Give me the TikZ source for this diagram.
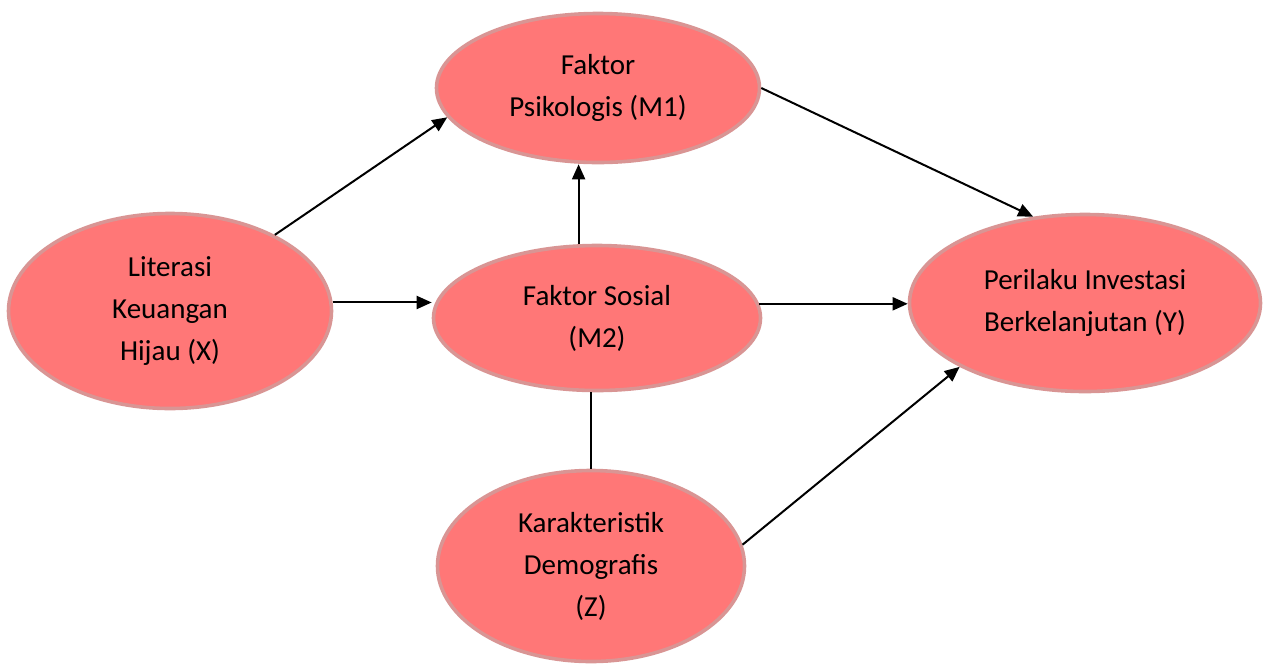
\documentclass[tikz,border=0pt]{standalone}
\usepackage{fontspec}
\setmainfont{Carlito}
\usepackage{tikz}
\usetikzlibrary{shapes.geometric, arrows.meta, positioning}
\tikzset{>={Triangle[length=7.5pt,width=6.5pt]}}
\definecolor{varfill}{HTML}{FF7777}
\definecolor{varline}{HTML}{D99594}
\tikzset{
  var/.style={ellipse, draw=varline, line width=1.8pt, fill=varfill, inner sep=0pt,
    align=center, font=\fontsize{14.5}{21}\selectfont},
  path/.style={line width=1pt, ->}
}

\begin{document}
\begin{tikzpicture}[x=0.5pt, y=-0.5pt]
	\useasboundingbox (0,0) rectangle (1265,666);
	\node[var, minimum width=161.5pt, minimum height=97.5pt] (x) at (170,311) {Literasi\\Keuangan\\Hijau (X)};
	\node[var, minimum width=161.5pt, minimum height=74.5pt] (m1) at (598,88) {Faktor\\Psikologis (M1)};
	\node[var, minimum width=163.5pt, minimum height=72.5pt] (m2) at (597,318) {Faktor Sosial\\(M2)};
	\node[var, minimum width=175.5pt, minimum height=88.5pt] (y) at (1085,303) {Perilaku Investasi\\Berkelanjutan (Y)};
	\node[var, minimum width=153.5pt, minimum height=95.5pt] (z) at (591,566) {Karakteristik\\Demografis\\(Z)};
	\draw[path] (x.36) -- (m1.191);
	\draw[path] (x.3) -- (x.3 -| m2.west);
	\draw[path] (m2.104) -- (m2.104 |- m1.south);
	\draw[path] (m1.east) -- (y.121);
	\draw[path] (m2.5) -- (m2.5 -| y.west);
	\draw[line width=1pt] (z.north) -- (z.north |- m2.south);
	\draw[path] (z.8) -- (y.207);
\end{tikzpicture}
\end{document}
